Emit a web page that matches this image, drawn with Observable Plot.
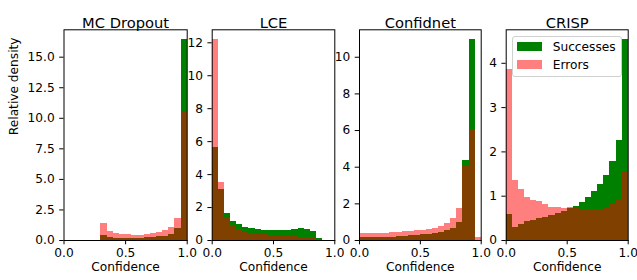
<!DOCTYPE html>
<html><head><meta charset="utf-8">
<script src="https://cdn.jsdelivr.net/npm/d3@7"></script>
<script src="https://cdn.jsdelivr.net/npm/@observablehq/plot@0.6"></script>
<style>
body{margin:0;background:#fff;}
#chart{position:relative;width:637px;height:280px;font-family:"DejaVu Sans";}
#chart svg{position:absolute;left:0;top:0;overflow:visible;background:transparent;}
.legend{position:absolute;left:511.7px;top:35.7px;width:110px;height:41.6px;box-sizing:border-box;border:1px solid #d0d0d0;border-radius:3px;background:rgba(255,255,255,0.8);z-index:5;}
.sw{position:absolute;left:4px;width:25px;height:8.4px;}
.lbl{position:absolute;left:40px;font-size:12.2px;line-height:12.2px;color:#000;white-space:nowrap;}
</style></head>
<body>
<div id="chart"></div>
<script>
// ---- data ----
const binEdges = [0,0.05,0.1,0.15,0.2,0.25,0.3,0.35,0.4,0.45,0.5,0.55,0.6,0.65,0.7,0.75,0.8,0.85,0.9,0.95,1.0];
const titles = ["MC Dropout","LCE","Confidnet","CRISP"];
const seriesLabels = ["Successes","Errors"];
const xLabel = "Confidence";
const yLabel = "Relative density";
const xTicks = [0,0.5,1];

const mcSucc   = [0,0,0,0,0,0,0.41,0.26,0.18,0.17,0.17,0.17,0.2,0.24,0.24,0.29,0.34,0.5,0.95,16.42];
const mcErr    = [0,0,0,0,0,0,1.36,0.74,0.57,0.49,0.46,0.45,0.45,0.52,0.57,0.65,0.79,1.04,1.77,10.56];
const lceSucc  = [5.67,3.10,1.62,1.15,0.95,0.78,0.71,0.66,0.63,0.62,0.62,0.62,0.62,0.66,0.74,0.69,0.52,0.12,0,0];
const lceErr   = [12.18,3.50,1.36,0.84,0.65,0.52,0.45,0.38,0.34,0.31,0.29,0.27,0.25,0.23,0.21,0.19,0.16,0.05,0,0];
const cnSucc   = [0.18,0.18,0.18,0.18,0.18,0.19,0.22,0.24,0.26,0.28,0.31,0.33,0.36,0.42,0.53,0.67,1.0,4.35,10.95,0];
const cnErr    = [0.36,0.36,0.36,0.36,0.40,0.42,0.44,0.47,0.49,0.53,0.55,0.60,0.67,0.76,0.95,1.18,1.76,4.05,6.04,0.16];
const crSucc   = [0.58,0.30,0.35,0.42,0.46,0.49,0.52,0.56,0.61,0.66,0.72,0.77,0.85,0.96,1.10,1.26,1.47,1.78,2.25,4.53];
const crErr    = [3.86,1.35,1.15,0.98,0.91,0.88,0.82,0.75,0.75,0.73,0.74,0.72,0.71,0.71,0.71,0.71,0.75,0.82,0.92,1.55];

const yTicksMC = [0,2.5,5,7.5,10,12.5,15];
const yTicksLCE = [0,2,4,6,8,10,12];
const yTicksCN = [0,2,4,6,8,10];
const yTicksCR = [0,1,2,3,4];

// ---- layout ----
const W = 637, H = 280, frameTop = 29.3, frameBottom = 240;
const frames = [[63.5,186.7],[211.7,334.3],[359,480.7],[505.7,627.7]];
const panels = [
  [mcSucc, mcErr, yTicksMC, ".1f"],
  [lceSucc, lceErr, yTicksLCE, "d"],
  [cnSucc, cnErr, yTicksCN, "d"],
  [crSucc, crErr, yTicksCR, "d"]
];
const chart = document.getElementById("chart");
panels.forEach(([succ, err, yTicks, fmt], i) => {
  const rows = succ.map((v, k) => ({x1: binEdges[k], x2: binEdges[k+1], s: v, e: err[k]}));
  const ymax = d3.max([...succ, ...err]) * 1.05;
  const marks = [
    Plot.rect(rows, {x1: "x1", x2: "x2", y1: 0, y2: "s", fill: "#008000", shapeRendering: "crispEdges"}),
    Plot.rect(rows, {x1: "x1", x2: "x2", y1: 0, y2: "e", fill: "#ff0000", fillOpacity: 0.5, shapeRendering: "crispEdges"}),
    Plot.frame({stroke: "black", strokeWidth: 1}),
    Plot.axisX({ticks: xTicks, tickFormat: d3.format(".1f"), tickSize: 4.3, tickPadding: 4, label: null}),
    Plot.axisY({ticks: yTicks, tickFormat: d3.format(fmt), tickSize: 4.3, tickPadding: 5, label: null}),
    Plot.text([titles[i]], {text: d => d, frameAnchor: "top", dy: -12, fontSize: 14.7}),
    Plot.text([xLabel], {text: d => d, frameAnchor: "bottom", dy: 30, fontSize: 12.2})
  ];
  if (i === 0) marks.push(Plot.text([yLabel], {text: d => d, frameAnchor: "left", dx: -50.4, rotate: -90, fontSize: 12.2}));
  const svg = Plot.plot({
    width: W, height: H,
    marginLeft: frames[i][0], marginRight: W - frames[i][1],
    marginTop: frameTop, marginBottom: H - frameBottom,
    x: {domain: [0, 1]},
    y: {domain: [0, ymax]},
    style: {fontFamily: "DejaVu Sans", fontSize: "12.2px", color: "black", background: "transparent", overflow: "visible"},
    marks
  });
  chart.appendChild(svg);
});

// legend
const lg = document.createElement("div");
lg.className = "legend";
const colors = ["#008000", "rgba(255,0,0,0.5)"];
seriesLabels.forEach((lab, k) => {
  const sw = document.createElement("span");
  sw.className = "sw"; sw.style.background = colors[k]; sw.style.top = (5.6 + k * 18) + "px";
  const t = document.createElement("span");
  t.className = "lbl"; t.textContent = lab; t.style.top = (4.3 + k * 18.3) + "px";
  lg.appendChild(sw); lg.appendChild(t);
});
chart.appendChild(lg);
</script>
</body></html>
